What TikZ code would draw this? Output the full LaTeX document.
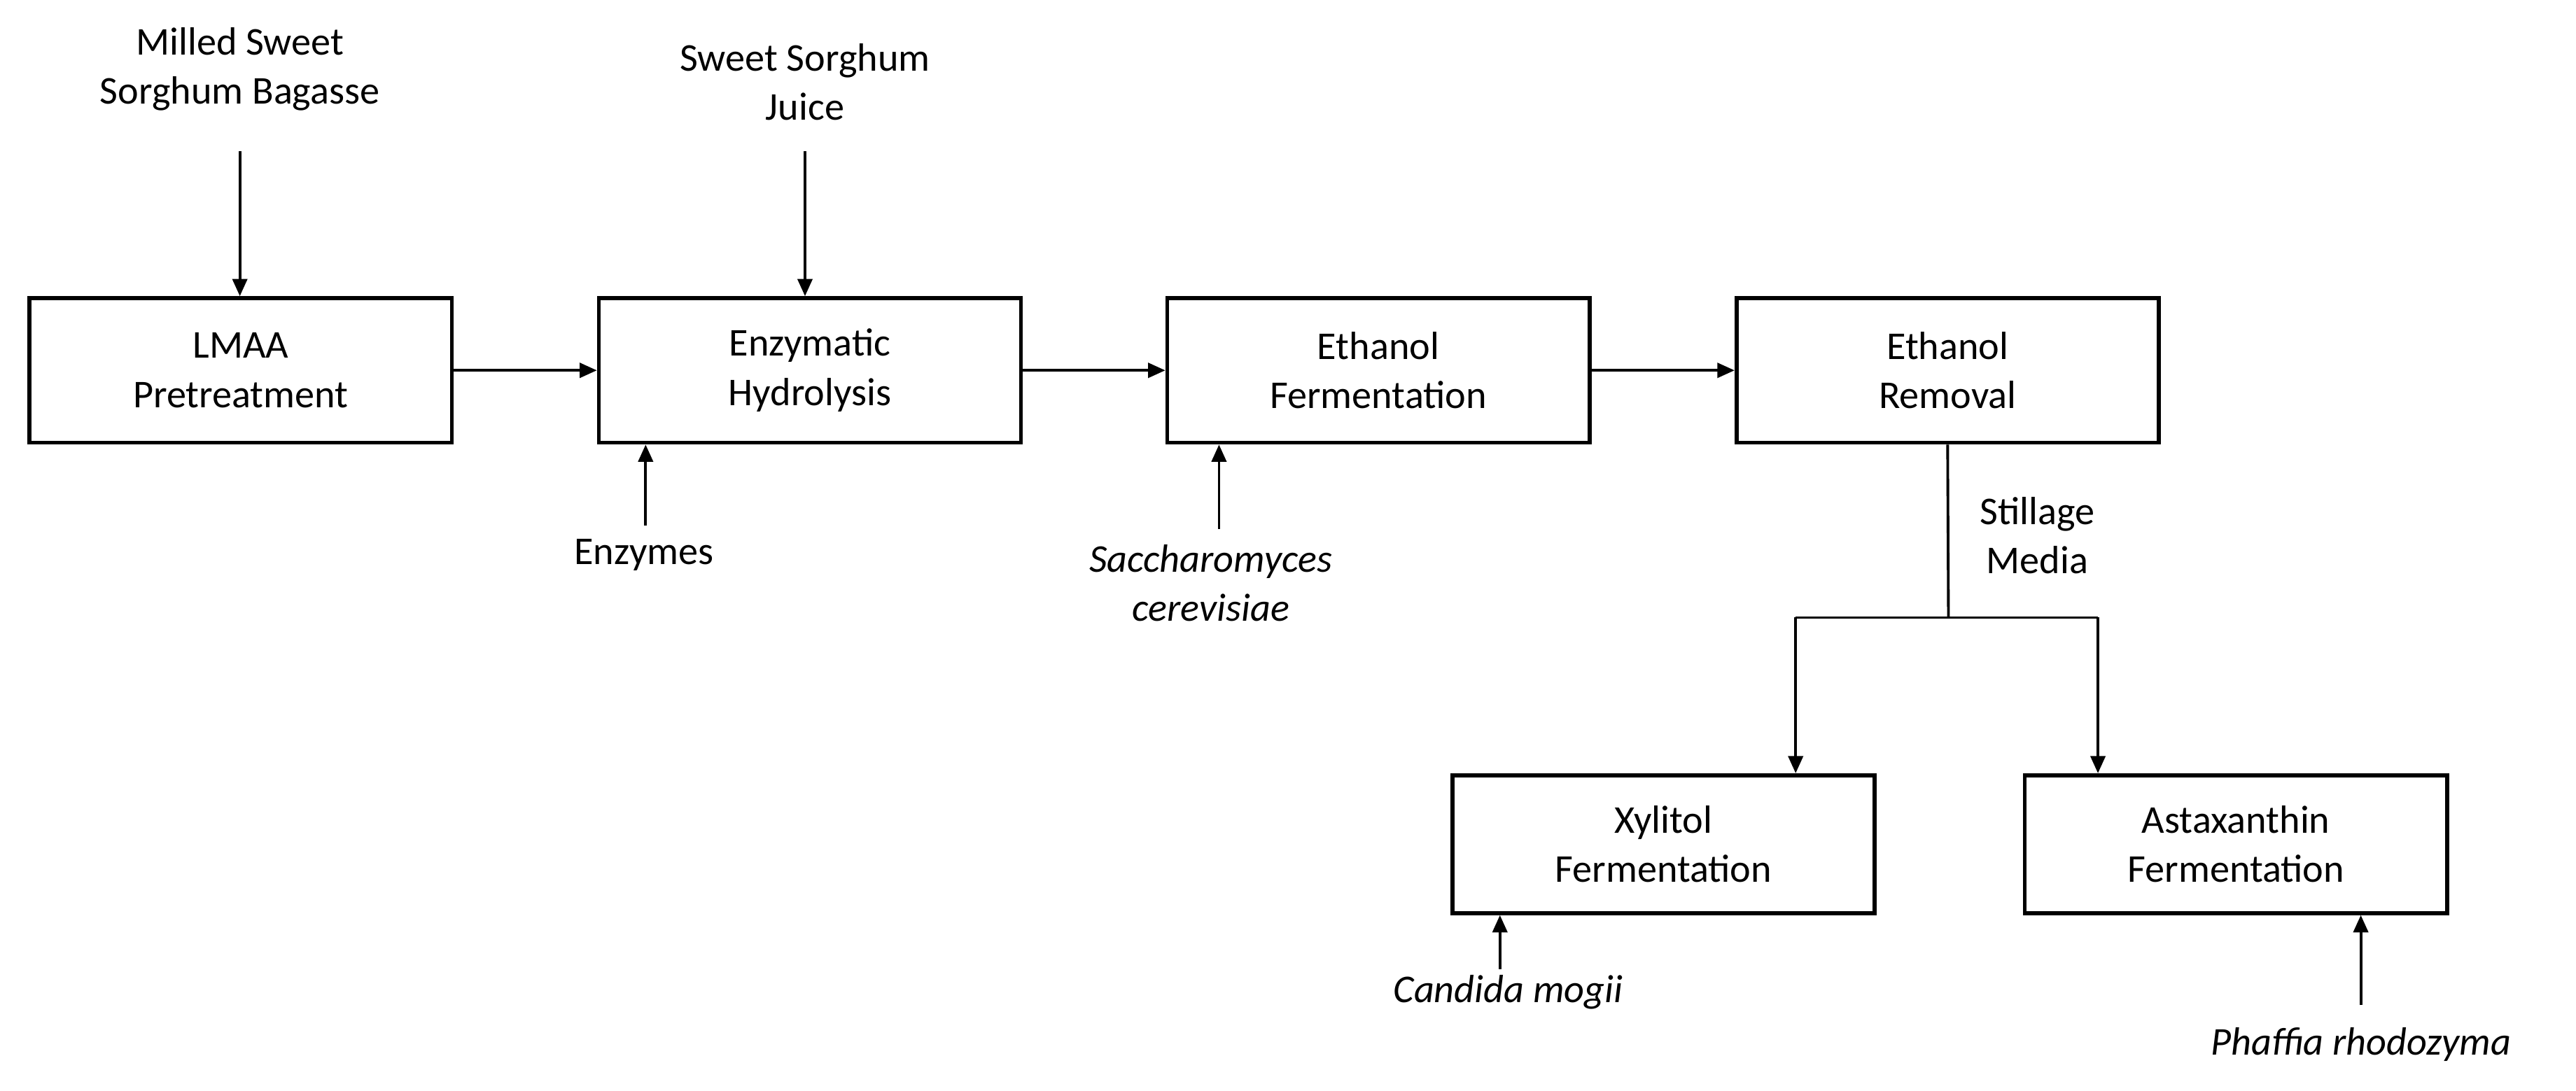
\documentclass[tikz,border=0pt]{standalone}
\usepackage{fontspec}
\setmainfont{Carlito}
\usetikzlibrary{arrows.meta}
\begin{document}
\begin{tikzpicture}[x=0.02347cm,y=-0.02347cm,
  box/.style={draw,line width=1.6pt,minimum width=257*0.02347cm,minimum height=88*0.02347cm,align=center,inner sep=0pt,font=\fontsize{16}{20}\selectfont},
  txt/.style={align=center,font=\fontsize{16}{20}\selectfont,inner sep=0pt},
  ar/.style={line width=1.1pt,-{Triangle[length=7pt,width=6pt]}},
  ln/.style={line width=1.1pt}]
\useasboundingbox (0,0) rectangle (1568,664);
\node[box] (lmaa) at (146.5,225.5) {LMAA\\Pretreatment};
\node[box] (enz) at (493,225.5) {Enzymatic\\Hydrolysis};
\node[box] (ef) at (839,225.5) {Ethanol\\Fermentation};
\node[box] (er) at (1185.5,225.5) {Ethanol\\Removal};
\node[box,minimum height=84*0.02347cm] (xy) at (1012.5,514) {Xylitol\\Fermentation};
\node[box,minimum height=84*0.02347cm] (as) at (1361,514) {Astaxanthin\\Fermentation};
\node[txt] (msb) at (146,42) {Milled Sweet\\Sorghum Bagasse};
\node[txt] (ssj) at (490,50) {Sweet Sorghum\\Juice};
\node[txt] (en) at (392,338) {Enzymes};
\node[txt,font=\fontsize{16}{20}\selectfont\itshape] (sc) at (737,355) {Saccharomyces\\cerevisiae};
\node[txt] (sm) at (1240,326) {Stillage\\Media};
\node[txt,font=\fontsize{16}{20}\selectfont\itshape] (cm) at (918,604) {Candida mogii};
\node[txt,font=\fontsize{16}{20}\selectfont\itshape] (pr) at (1437,636) {Phaffia rhodozyma};
\coordinate (a1) at (146,92); \coordinate (a2) at (490,92);
\draw[ar] (a1) -- (a1 |- lmaa.north);
\draw[ar] (a2) -- (a2 |- enz.north);
\draw[ar] (lmaa.east) -- (enz.west);
\draw[ar] (enz.east) -- (ef.west);
\draw[ar] (ef.east) -- (er.west);
\coordinate (b1) at (393,320); \draw[ar] (b1) -- (b1 |- enz.south);
\coordinate (b2) at (742,322); \draw[ar] (b2) -- (b2 |- ef.south);
\coordinate (j) at (1186,376); \coordinate (jl) at (1093,376); \coordinate (jr) at (1277,376);
\draw[ln] (er.south) -- (j);
\draw[ln] (jl) -- (jr);
\draw[ar] (jl) -- (jl |- xy.north);
\draw[ar] (jr) -- (jr |- as.north);
\coordinate (c1) at (913,590); \draw[ar] (c1) -- (c1 |- xy.south);
\coordinate (c2) at (1437,612); \draw[ar] (c2) -- (c2 |- as.south);
\end{tikzpicture}
\end{document}
